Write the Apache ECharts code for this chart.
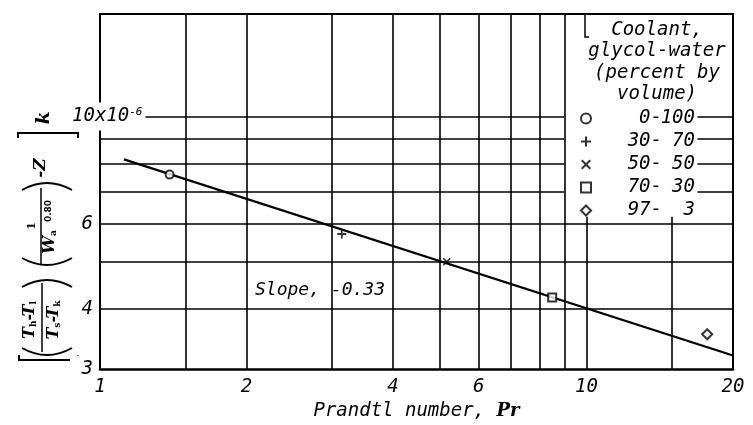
<!DOCTYPE html>
<html><head><meta charset="utf-8">
<script src="https://cdn.jsdelivr.net/npm/echarts@6/dist/echarts.min.js"></script>
<style>html,body{margin:0;padding:0;background:#fff}#c{width:753px;height:425px}</style>
</head><body><div id="c"></div>
<script>
// ---- data ----
const xTicks = [1, 2, 4, 6, 10, 20];
const yTicks = [3, 4, 6, 10];
const xRange = [1, 20];
const yRange = [3, 16.3];
const vGrid = [1.5, 2, 3, 4, 5, 6, 7, 8, 9];
const vGridShort = [10, 15];
const hGrid = [4, 5, 6];
const hGridSplit = [7, 8, 9, 10];
const legendBottom = 6.2, legendLeft = 9, legendRight = 16.9;
const coolants = ['0-100', '30-70', '50-50', '70-30', '97-3'];
const prandtl = [1.39, 3.14, 5.16, 8.5, 17.7];
const kValues = [7.58, 5.71, 5.0, 4.22, 3.54];
const fitX = [1.12, 20];
const fitY = [8.15, 3.2];

const FONT = '"DejaVu Sans Mono", "Liberation Mono", monospace';
const PLUS = 'path://M4,0H6V4H10V6H6V10H4V6H0V4H4Z';
const CROSS = 'path://M1.4,0L5,3.6L8.6,0L10,1.4L6.4,5L10,8.6L8.6,10L5,6.4L1.4,10L0,8.6L3.6,5L0,1.4Z';
const symbols = ['emptyCircle', PLUS, CROSS, 'emptyRect', 'emptyDiamond'];
const sizes = [8, 9, 8, 8, 10];

const seg = (a, b) => [{coord: a}, {coord: b}];
const gridSegs = [
  ...vGrid.map(x => seg([x, yRange[0]], [x, yRange[1]])),
  ...vGridShort.map(x => seg([x, yRange[0]], [x, legendBottom])),
  ...hGrid.map(y => seg([xRange[0], y], [xRange[1], y])),
  ...hGridSplit.map(y => seg([xRange[0], y], [legendLeft, y])),
  ...hGridSplit.map(y => seg([legendRight, y], [xRange[1], y]))
];

const chart = echarts.init(document.getElementById('c'), null, {renderer: 'canvas'});
const txt = {color: '#000', fontFamily: FONT, fontStyle: 'italic', fontSize: 19};
const line = {stroke: '#000', lineWidth: 2, fill: null};
const richT = {
  t: {font: 'bold italic 16px "DejaVu Serif"', fill: '#000'},
  s: {font: 'bold 9px "DejaVu Serif"', fill: '#000', padding: [8, 0, 0, 0]}
};

const scatterSeries = coolants.map((name, i) => ({
  type: 'scatter', name,
  data: [[prandtl[i], kValues[i]]],
  symbol: symbols[i], symbolSize: sizes[i],
  itemStyle: {color: '#000', borderColor: '#000', borderWidth: symbols[i].startsWith('empty') ? 1.6 : 0},
  z: 4
}));

chart.setOption({
  animation: false,
  backgroundColor: '#fff',
  grid: {left: 100, right: 20, top: 14, bottom: 56, containLabel: false, outerBoundsMode: 'none'},
  xAxis: [{
    type: 'log', logBase: 10, min: xRange[0], max: xRange[1], position: 'bottom',
    axisLine: {show: true, lineStyle: {color: '#000', width: 2.5}},
    axisTick: {show: false}, splitLine: {show: false}, minorSplitLine: {show: false},
    axisLabel: Object.assign({customValues: xTicks, margin: 9, formatter: v => String(+v)}, txt),
    name: 'Prandtl number, {b|Pr}', nameLocation: 'middle', nameGap: 30,
    nameTextStyle: Object.assign({rich: {b: {fontFamily: '"DejaVu Serif"', fontWeight: 'bold', fontStyle: 'italic', fontSize: 18}}}, txt)
  }, {
    type: 'log', logBase: 10, min: xRange[0], max: xRange[1], position: 'top',
    axisLine: {show: true, lineStyle: {color: '#000', width: 2}},
    axisTick: {show: false}, axisLabel: {show: false}, splitLine: {show: false}
  }],
  yAxis: [{
    type: 'log', logBase: 10, min: yRange[0], max: yRange[1], position: 'left', z: 10,
    axisLine: {show: true, lineStyle: {color: '#000', width: 2}},
    axisTick: {show: false}, splitLine: {show: false}, minorSplitLine: {show: false},
    axisLabel: {
      customValues: yTicks, align: 'left', margin: 30,
      backgroundColor: '#fff', padding: [4, 3, 4, 2],
      formatter: v => (+v === 10 ? '{big|10x10}{sup|-6}' : '{n|' + (+v) + '}'),
      rich: {
        n: Object.assign({width: 21, align: 'right'}, txt),
        big: Object.assign({lineHeight: 20}, txt),
        sup: Object.assign({}, txt, {fontSize: 11, lineHeight: 11, padding: [0, 0, 9, 0]})
      }
    }
  }, {
    type: 'log', logBase: 10, min: yRange[0], max: yRange[1], position: 'right',
    axisLine: {show: true, lineStyle: {color: '#000', width: 2}},
    axisTick: {show: false}, axisLabel: {show: false}, splitLine: {show: false}
  }],
  legend: {
    data: coolants, orient: 'vertical', left: 575, top: 104,
    itemWidth: 10, itemHeight: 10, itemGap: 4, selectedMode: false,
    formatter: name => {
      const p = name.split('-');
      return '{a|' + p[0] + '-}{b|' + p[1] + '}';
    },
    textStyle: Object.assign({lineHeight: 16, rich: {
      a: Object.assign({width: 66, align: 'right', lineHeight: 16}, txt),
      b: Object.assign({width: 33, align: 'right', lineHeight: 16}, txt)
    }}, txt)
  },
  graphic: [
    {type: 'text', x: 657, y: 19, style: {text: 'Coolant,\nglycol-water\n(percent by\nvolume)', align: 'center', textAlign: 'center', verticalAlign: 'top', lineHeight: 21.5, font: 'italic 19px ' + FONT, fill: '#000'}},
    {type: 'polyline', shape: {points: [[585, 14], [585, 37], [589, 37]]}, style: {stroke: '#000', lineWidth: 1.5, fill: null}},
    {type: 'text', x: 255, y: 290, style: {text: 'Slope, -0.33', align: 'left', verticalAlign: 'middle', font: 'italic 18px ' + FONT, fill: '#000'}},
    {
      type: 'group', x: 40, y: 365, rotation: Math.PI / 2,
      children: [
        {type: 'polyline', shape: {points: [[10, -21], [5, -21], [5, 38], [10, 38]]}, style: line},
        {type: 'bezierCurve', shape: {x1: 17, y1: -18, x2: 17, y2: 32, cpx1: 3, cpy1: 7}, style: line},
        {type: 'text', x: 45, y: -10, style: {text: '{t|T}{s|h}{t|-T}{s|l}', rich: richT, align: 'center', verticalAlign: 'middle'}},
        {type: 'line', shape: {x1: 13, y1: 2, x2: 82, y2: 2}, style: {stroke: '#000', lineWidth: 1.5}},
        {type: 'text', x: 45, y: 14, style: {text: '{t|T}{s|s}{t|-T}{s|k}', rich: richT, align: 'center', verticalAlign: 'middle'}},
        {type: 'bezierCurve', shape: {x1: 78, y1: -18, x2: 78, y2: 32, cpx1: 92, cpy1: 7}, style: line},
        {type: 'bezierCurve', shape: {x1: 107, y1: -18, x2: 107, y2: 32, cpx1: 93, cpy1: 7}, style: line},
        {type: 'text', x: 139, y: -8, style: {text: '1', font: 'bold 11px "DejaVu Serif"', fill: '#000', align: 'center', verticalAlign: 'middle'}},
        {type: 'line', shape: {x1: 100, y1: 1, x2: 177, y2: 1}, style: {stroke: '#000', lineWidth: 1.5}},
        {type: 'text', x: 123, y: 10, style: {text: '{t|W}{s|a}', rich: richT, align: 'center', verticalAlign: 'middle'}},
        {type: 'text', x: 154, y: 9, style: {text: '0.80', font: 'bold 9px "DejaVu Sans"', fill: '#000', align: 'center', verticalAlign: 'middle'}},
        {type: 'bezierCurve', shape: {x1: 175, y1: -18, x2: 175, y2: 32, cpx1: 189, cpy1: 7}, style: line},
        {type: 'text', x: 197, y: 1, style: {text: '-Z', font: 'bold italic 17px "DejaVu Serif"', fill: '#000', align: 'center', verticalAlign: 'middle'}},
        {type: 'polyline', shape: {points: [[227, -22], [232, -22], [232, 38], [227, 38]]}, style: line},
        {type: 'text', x: 247, y: 4, style: {text: 'k', font: 'bold italic 19px "DejaVu Serif"', fill: '#000', align: 'center', verticalAlign: 'middle'}}
      ]
    }
  ],
  series: [{
    type: 'line', name: 'fit',
    data: fitX.map((x, i) => [x, fitY[i]]),
    showSymbol: false, symbol: 'none',
    lineStyle: {color: '#000', width: 2.2},
    z: 3,
    markLine: {
      silent: true, symbol: ['none', 'none'], label: {show: false},
      lineStyle: {color: '#000', width: 1.6, type: 'solid'},
      emphasis: {disabled: true},
      data: gridSegs
    }
  }, ...scatterSeries]
});
</script>
</body></html>
